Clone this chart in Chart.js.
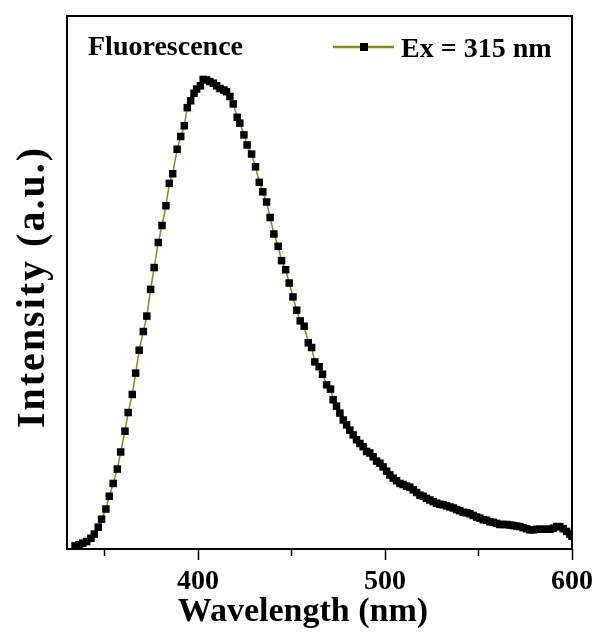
<!DOCTYPE html>
<html>
<head>
<meta charset="utf-8">
<script src="https://cdn.jsdelivr.net/npm/chart.js@4.4.1/dist/chart.umd.min.js"></script>
<style>
  html, body { margin: 0; padding: 0; background: #fff; }
  #wrap { width: 599px; height: 637px; }
</style>
</head>
<body>
<div id="wrap"><canvas id="pl"></canvas></div>
<script>
// emission spectrum (nm / a.u.)
const wavelengths = [
  334.3, 336.4, 338.4, 340.5, 342.8, 344.6, 346.7, 348.5, 350.8, 352.6,
  354.7, 356.9, 358.7, 361.0, 362.7, 364.9, 366.7, 368.6, 370.8, 372.7,
  374.7, 376.6, 378.8, 380.8, 382.9, 384.7, 386.5, 388.9, 390.8, 392.7,
  394.3, 396.1, 397.9, 399.3, 401.3, 402.8, 404.6, 406.4, 408.2, 410.0,
  411.8, 413.9, 415.3, 417.1, 418.9, 421.0, 422.4, 424.6, 426.3, 428.7,
  430.8, 432.8, 434.7, 436.7, 438.6, 440.6, 442.9, 444.7, 446.9, 448.8,
  450.8, 452.8, 454.7, 456.8, 459.0, 460.8, 462.5, 464.8, 466.6, 468.8,
  470.9, 472.3, 474.1, 475.9, 477.7, 479.5, 481.2, 483.0, 484.8, 486.6,
  488.3, 490.2, 491.9, 493.7, 495.5, 497.3, 499.0, 500.9, 502.6, 504.4,
  506.2, 508.0, 509.7, 511.5, 513.3, 515.1, 516.9, 518.7, 520.4, 522.2,
  524.0, 525.8, 527.6, 529.3, 531.1, 532.9, 534.7, 536.5, 538.3, 540.0,
  541.8, 543.6, 545.4, 547.2, 549.0, 550.7, 552.5, 554.3, 556.1, 557.9,
  559.7, 561.4, 563.2, 565.0, 566.8, 568.6, 570.4, 572.1, 573.9, 575.7,
  577.5, 579.3, 581.1, 582.8, 584.6, 586.4, 588.2, 590.0, 591.8, 593.5,
  595.3, 597.1, 598.9, 600.0
];
const intensity = [
  0.6, 0.8, 1.1, 1.4, 2.0, 2.8, 4.1, 5.6, 7.5, 9.9,
  12.3, 15.0, 18.2, 22.1, 25.6, 29.0, 33.0, 37.3, 40.8, 43.7,
  48.7, 52.8, 57.5, 60.7, 64.4, 68.6, 70.4, 75.0, 77.4, 79.4,
  82.8, 84.1, 85.5, 86.3, 86.9, 88.1, 88.0, 87.7, 87.4, 86.9,
  86.4, 86.1, 85.8, 84.9, 83.5, 81.0, 79.9, 77.7, 75.8, 74.1,
  71.7, 68.8, 67.0, 65.1, 62.2, 59.1, 56.8, 54.1, 52.4, 49.9,
  47.3, 44.8, 42.8, 41.8, 38.7, 37.8, 35.1, 34.2, 32.8, 30.8,
  30.0, 28.0, 26.8, 25.5, 24.2, 23.3, 22.3, 21.4, 20.5, 19.8,
  19.2, 18.3, 18.0, 17.3, 16.5, 16.1, 15.4, 14.6, 13.9, 13.3,
  12.8, 12.3, 12.1, 11.8, 11.6, 11.1, 10.6, 10.1, 9.9, 9.5,
  9.2, 8.9, 8.6, 8.4, 8.3, 8.1, 7.9, 7.7, 7.4, 7.2,
  6.9, 6.8, 6.6, 6.3, 6.0, 5.8, 5.5, 5.4, 5.1, 5.0,
  4.8, 4.6, 4.6, 4.6, 4.5, 4.4, 4.3, 4.2, 4.0, 3.8,
  3.6, 3.6, 3.7, 3.7, 3.7, 3.7, 3.7, 3.9, 4.2, 4.2,
  3.8, 3.3, 2.8, 2.4
];
const majorTicks = [400, 500, 600];
const minorTicks = [350, 450, 550];
const seriesLabel = 'Ex = 315 nm';
const panelLabel = 'Fluorescence';
const xTitle = 'Wavelength (nm)';
const yTitle = 'Intensity (a.u.)';

const OLIVE = '#8a8a10';
const SERIF = '"Liberation Serif", "Times New Roman", serif';

const points = wavelengths.map((w, i) => ({ x: w, y: intensity[i] }));

// frame, tick marks, axis titles, legend and panel label
const decor = {
  id: 'decor',
  afterDraw(chart) {
    const { ctx, chartArea: a, scales } = chart;
    ctx.save();
    ctx.strokeStyle = '#000';
    ctx.lineWidth = 2;
    ctx.strokeRect(a.left, a.top, a.right - a.left, a.bottom - a.top);

    ctx.lineWidth = 1.5;
    const tick = (v, len) => {
      const px = Math.round(scales.x.getPixelForValue(v)) + 0.5;
      ctx.beginPath();
      ctx.moveTo(px, a.bottom);
      ctx.lineTo(px, a.bottom + len);
      ctx.stroke();
    };
    majorTicks.forEach(v => tick(v, 11));
    minorTicks.forEach(v => tick(v, 7));

    ctx.fillStyle = '#000';
    ctx.textAlign = 'center';
    ctx.textBaseline = 'middle';
    ctx.font = 'bold 34px ' + SERIF;
    ctx.fillText(xTitle, 303, 612);

    ctx.save();
    ctx.translate(34, 287);
    ctx.rotate(-Math.PI / 2);
    ctx.font = 'bold 40px ' + SERIF;
    ctx.letterSpacing = '2px';
    ctx.fillText(yTitle, 0, 0);
    ctx.restore();

    // legend entry
    ctx.strokeStyle = OLIVE;
    ctx.lineWidth = 2.5;
    ctx.beginPath();
    ctx.moveTo(333, 47);
    ctx.lineTo(394, 47);
    ctx.stroke();
    ctx.fillRect(360, 43, 8, 8);

    ctx.font = 'bold 28px ' + SERIF;
    ctx.textBaseline = 'alphabetic';
    ctx.textAlign = 'left';
    ctx.fillText(seriesLabel, 401, 57);
    ctx.fillText(panelLabel, 88, 55);
    ctx.restore();
  }
};

new Chart(document.getElementById('pl'), {
  type: 'line',
  data: {
    datasets: [{
      label: seriesLabel,
      data: points,
      borderColor: OLIVE,
      borderWidth: 1.5,
      pointStyle: 'rect',
      pointRadius: 5.3,
      pointBackgroundColor: '#000',
      pointBorderColor: '#000',
      pointBorderWidth: 0,
      tension: 0
    }]
  },
  options: {
    responsive: true,
    maintainAspectRatio: false,
    animation: false,
    layout: { padding: { top: 16, right: 27, bottom: 35, left: 67 } },
    plugins: {
      legend: { display: false },
      tooltip: { enabled: false }
    },
    scales: {
      x: {
        type: 'linear',
        min: 330,
        max: 600,
        border: { display: false },
        grid: {
          drawOnChartArea: false,
          tickLength: 13,
          tickColor: 'rgba(0,0,0,0)'
        },
        afterBuildTicks: axis => {
          axis.ticks = majorTicks.map(v => ({ value: v }));
        },
        ticks: {
          padding: 6,
          color: '#000',
          maxRotation: 0,
          font: { family: SERIF, size: 28, weight: 'bold', lineHeight: 1 }
        },
        title: { display: false }
      },
      y: {
        display: false,
        min: 0,
        max: 100
      }
    }
  },
  plugins: [decor]
});
</script>
</body>
</html>
